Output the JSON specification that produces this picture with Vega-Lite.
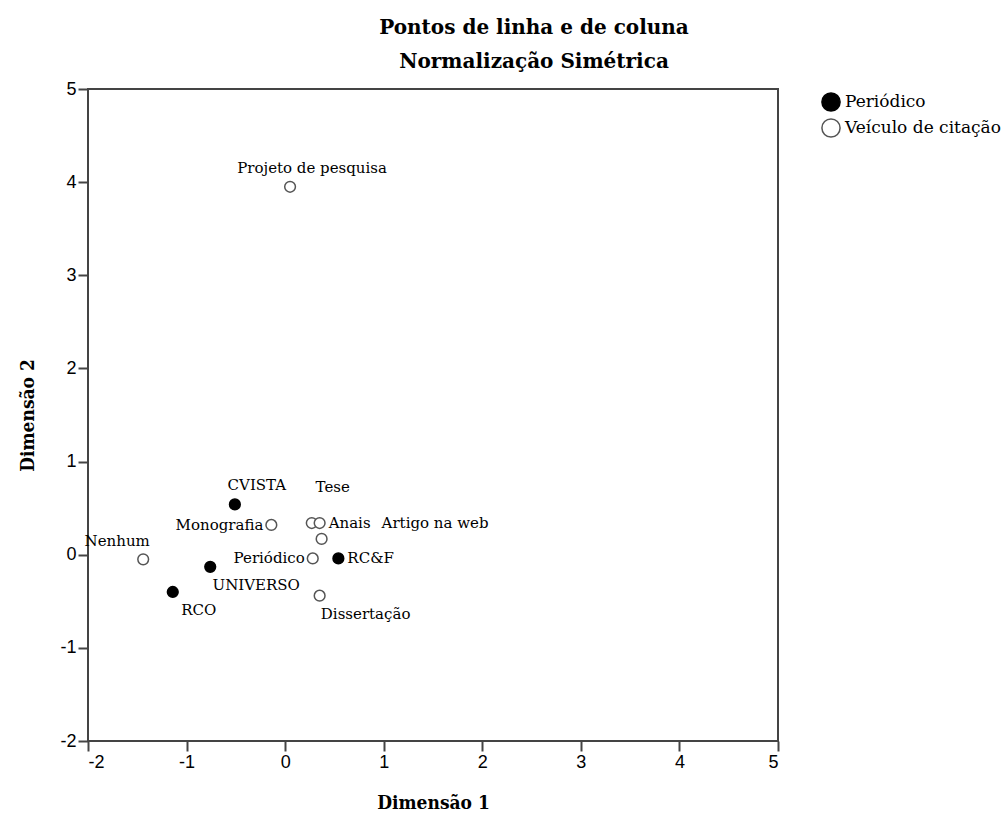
{
  "$schema": "https://vega.github.io/schema/vega-lite/v6.json",
  "width": 690,
  "height": 652,
  "autosize": "none",
  "padding": {"left": 88, "top": 89, "right": 230, "bottom": 73},
  "background": "white",
  "title": {
    "text": ["Pontos de linha e de coluna", "Normalização Simétrica"],
    "font": "DejaVu Serif",
    "fontSize": 20,
    "fontWeight": "bold",
    "color": "black",
    "lineHeight": 34,
    "anchor": "middle",
    "dx": 101,
    "offset": 8
  },
  "config": {
    "view": {"stroke": "#444", "strokeWidth": 2},
    "axis": {
      "grid": false,
      "domain": false,
      "tickColor": "#444",
      "tickWidth": 2,
      "tickSize": 10,
      "labelFont": "Liberation Sans",
      "labelFontSize": 18,
      "labelColor": "black",
      "labelExpr": "replace(datum.label, '−', '-')",
      "titleFont": "DejaVu Serif Condensed",
      "titleFontSize": 19,
      "titleFontWeight": "bold",
      "titleColor": "black"
    }
  },
  "data": {
    "values": [
      {"label": "Projeto de pesquisa", "type": "Veículo de citação", "d1": 0.05, "d2": 3.95},
      {"label": "CVISTA", "type": "Periódico", "d1": -0.51, "d2": 0.54},
      {"label": "Monografia", "type": "Veículo de citação", "d1": -0.14, "d2": 0.32},
      {"label": "Tese", "type": "Veículo de citação", "d1": 0.27, "d2": 0.34},
      {"label": "Anais", "type": "Veículo de citação", "d1": 0.35, "d2": 0.34},
      {"label": "Artigo na web", "type": "Veículo de citação", "d1": 0.37, "d2": 0.17},
      {"label": "Nenhum", "type": "Veículo de citação", "d1": -1.44, "d2": -0.05},
      {"label": "Periódico", "type": "Veículo de citação", "d1": 0.28, "d2": -0.04},
      {"label": "RC&F", "type": "Periódico", "d1": 0.54, "d2": -0.04},
      {"label": "UNIVERSO", "type": "Periódico", "d1": -0.76, "d2": -0.13},
      {"label": "RCO", "type": "Periódico", "d1": -1.14, "d2": -0.40},
      {"label": "Dissertação", "type": "Veículo de citação", "d1": 0.35, "d2": -0.44}
    ]
  },
  "encoding": {
    "x": {
      "field": "d1", "type": "quantitative",
      "scale": {"domain": [-2, 5], "nice": false, "zero": false},
      "axis": {"values": [-2, -1, 0, 1, 2, 3, 4, 5], "title": "Dimensão 1", "titlePadding": 22, "labelPadding": 2}
    },
    "y": {
      "field": "d2", "type": "quantitative",
      "scale": {"domain": [-2, 5], "nice": false, "zero": false},
      "axis": {"values": [-2, -1, 0, 1, 2, 3, 4, 5], "title": "Dimensão 2", "titlePadding": 22, "labelPadding": 2}
    }
  },
  "layer": [
    {
      "mark": {"type": "point", "shape": "circle", "filled": true, "size": 115, "strokeWidth": 1.5, "opacity": 1},
      "encoding": {
        "fill": {
          "field": "type", "type": "nominal",
          "scale": {"domain": ["Periódico", "Veículo de citação"], "range": ["black", "white"]},
          "legend": {
            "title": null,
            "orient": "none",
            "legendX": 733,
            "legendY": 3,
            "symbolSize": 330,
            "symbolStrokeColor": "black",
            "symbolStrokeWidth": 1.5,
            "labelFont": "DejaVu Serif",
            "labelFontSize": 17,
            "labelColor": "black",
            "rowPadding": 0,
            "labelOffset": 4
          }
        },
        "stroke": {
          "field": "type", "type": "nominal",
          "scale": {"domain": ["Periódico", "Veículo de citação"], "range": ["black", "#555"]},
          "legend": null
        }
      }
    },
    {
      "transform": [{"filter": {"field": "label", "oneOf": ["Projeto de pesquisa", "CVISTA"]}}],
      "mark": {"type": "text", "font": "DejaVu Serif", "fontSize": 15, "color": "black", "align": "center", "dx": 22, "dy": -19},
      "encoding": {"text": {"field": "label"}}
    },
    {
      "transform": [{"filter": {"field": "label", "equal": "Tese"}}],
      "mark": {"type": "text", "font": "DejaVu Serif", "fontSize": 15, "color": "black", "align": "center", "dx": 21, "dy": -36},
      "encoding": {"text": {"field": "label"}}
    },
    {
      "transform": [{"filter": {"field": "label", "oneOf": ["Monografia", "Periódico"]}}],
      "mark": {"type": "text", "font": "DejaVu Serif", "fontSize": 15, "color": "black", "align": "right", "dx": -8, "dy": 0},
      "encoding": {"text": {"field": "label"}}
    },
    {
      "transform": [{"filter": {"field": "label", "oneOf": ["Anais", "RC&F"]}}],
      "mark": {"type": "text", "font": "DejaVu Serif", "fontSize": 15, "color": "black", "align": "left", "dx": 9, "dy": 0},
      "encoding": {"text": {"field": "label"}}
    },
    {
      "transform": [{"filter": {"field": "label", "equal": "Artigo na web"}}],
      "mark": {"type": "text", "font": "DejaVu Serif", "fontSize": 15, "color": "black", "align": "left", "dx": 60, "dy": -16},
      "encoding": {"text": {"field": "label"}}
    },
    {
      "transform": [{"filter": {"field": "label", "equal": "Nenhum"}}],
      "mark": {"type": "text", "font": "DejaVu Serif", "fontSize": 15, "color": "black", "align": "center", "dx": -26, "dy": -18},
      "encoding": {"text": {"field": "label"}}
    },
    {
      "transform": [{"filter": {"field": "label", "oneOf": ["UNIVERSO", "Dissertação"]}}],
      "mark": {"type": "text", "font": "DejaVu Serif", "fontSize": 15, "color": "black", "align": "center", "dx": 46, "dy": 18},
      "encoding": {"text": {"field": "label"}}
    },
    {
      "transform": [{"filter": {"field": "label", "equal": "RCO"}}],
      "mark": {"type": "text", "font": "DejaVu Serif", "fontSize": 15, "color": "black", "align": "center", "dx": 26, "dy": 18},
      "encoding": {"text": {"field": "label"}}
    }
  ]
}
